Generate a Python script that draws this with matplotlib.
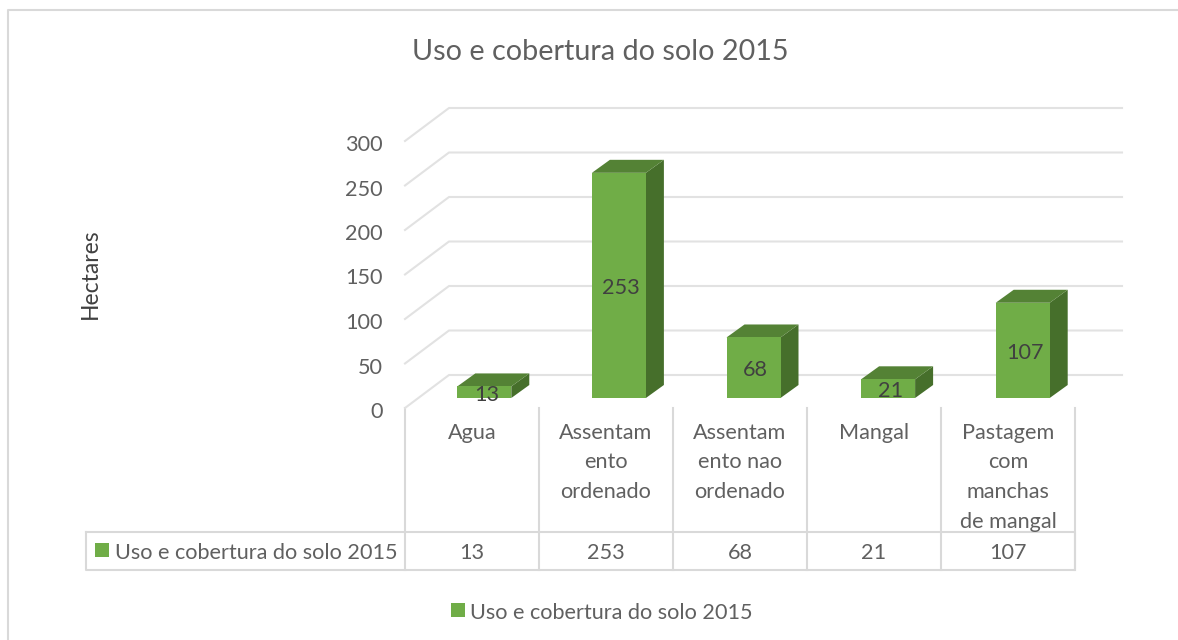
"""Uso e cobertura do solo 2015: fake 3D columns with a data table."""
import matplotlib

matplotlib.use("Agg")
import matplotlib.pyplot as plt
from matplotlib.patches import Polygon, Rectangle
from matplotlib.transforms import Affine2D

categories = [
    "Agua",
    "Assentam\nento\nordenado",
    "Assentam\nento nao\nordenado",
    "Mangal",
    "Pastagem\ncom\nmanchas\nde mangal",
]
values = [13, 253, 68, 21, 107]
yticks = [0, 50, 100, 150, 200, 250, 300]
series_name = "Uso e cobertura do solo 2015"
title = "Uso e cobertura do solo 2015"
ylabel = "Hectares"

GREEN = "#70ad47"
GREEN_TOP = "#548235"
GREEN_SIDE = "#466f2b"
GRID = "#e2e2e2"
BORDER = "#d9d9d9"
TEXT = "#606060"
FONT = "Lato"
SIZE = 15.6

WIDTH, HEIGHT = 1178, 640
# front plane of the plot, in pixels
LEFT, RIGHT, FLOOR, TOP = 405, 1078, 408, 141
PX_X = (RIGHT - LEFT) / len(values)
PX_Y = (FLOOR - TOP) / 300

# depth of the walls and of the columns, in data units
wall_dx, wall_dy = 44 / PX_X, 33 / PX_Y
bar_shift, bar_lift = 12 / PX_X, 10 / PX_Y
side_dx, side_dy = 18 / PX_X, 13 / PX_Y
bar_width = 54 / PX_X

plt.rcParams["font.family"] = [FONT, "DejaVu Sans"]

fig = plt.figure(figsize=(WIDTH / 100, HEIGHT / 100), dpi=100)

# overlay in pixel coordinates for the frame, table and legends
bg = fig.add_axes([0, 0, 1, 1], zorder=0)
bg.set_xlim(0, WIDTH)
bg.set_ylim(HEIGHT, 0)
bg.axis("off")

ax = fig.add_axes(
    [
        LEFT / WIDTH,
        (HEIGHT - FLOOR) / HEIGHT,
        (RIGHT - LEFT) / WIDTH,
        (FLOOR - TOP) / HEIGHT,
    ],
    zorder=1,
)
ax.patch.set_alpha(0)
ax.set_xlim(-0.5, len(values) - 0.5)
ax.set_ylim(0, 300)
ax.set_xticks([])
ax.set_yticks(yticks)
ax.tick_params(axis="y", length=0, pad=16, labelsize=SIZE, labelcolor=TEXT)
# tick labels sit a little under the gridline ends
for label in ax.get_yticklabels():
    label.set_transform(label.get_transform() + Affine2D().translate(0, -2))
for spine in ax.spines.values():
    spine.set_visible(False)

# gridlines: left wall and back wall
x0 = -0.5
x1 = len(values) - 0.5
for y in yticks:
    ax.plot(
        [x0, x0 + wall_dx, x1 + wall_dx],
        [y, y + wall_dy, y + wall_dy],
        color=GRID,
        lw=1.5,
        clip_on=False,
        zorder=1,
    )

# columns
for i, value in enumerate(values):
    x_left = i + bar_shift - bar_width / 2
    x_right = x_left + bar_width
    y_low = bar_lift
    y_top = bar_lift + value
    ax.add_patch(
        Polygon(
            [
                (x_right, y_low),
                (x_right + side_dx, y_low + side_dy),
                (x_right + side_dx, y_top + side_dy),
                (x_right, y_top),
            ],
            facecolor=GREEN_SIDE,
            edgecolor="none",
            clip_on=False,
            zorder=2,
        )
    )
    ax.add_patch(
        Polygon(
            [
                (x_left, y_top),
                (x_left + side_dx, y_top + side_dy),
                (x_right + side_dx, y_top + side_dy),
                (x_right, y_top),
            ],
            facecolor=GREEN_TOP,
            edgecolor="none",
            clip_on=False,
            zorder=2,
        )
    )
    ax.bar(
        i + bar_shift,
        value,
        bottom=bar_lift,
        width=bar_width,
        color=GREEN,
        clip_on=False,
        zorder=3,
    )
    ax.text(
        i + bar_shift + 0.015,
        bar_lift + value / 2 - 3,
        str(value),
        ha="center",
        va="center",
        fontsize=SIZE,
        color="#404040",
        zorder=4,
    )

# outer frame, runs off the right and bottom of the picture
bg.plot([8, 8, WIDTH], [HEIGHT, 10, 10], color=BORDER, lw=1.5)

bg.text(600, 52, title, ha="center", va="center", fontsize=20.7, color=TEXT)
bg.text(
    90,
    274,
    ylabel,
    rotation=90,
    ha="center",
    va="center",
    fontsize=16.5,
    color="#404040",
)

# data table
table_x = [405, 539, 673, 807, 941, 1075]
table_top, table_bottom = 532, 570
for x in table_x:
    bg.plot([x, x], [FLOOR, table_bottom], color=BORDER, lw=1.5)
bg.plot(
    [86, 86, table_x[-1], table_x[-1], 86],
    [table_top, table_bottom, table_bottom, table_top, table_top],
    color=BORDER,
    lw=1.5,
)

for i, (category, value) in enumerate(zip(categories, values)):
    xc = (table_x[i] + table_x[i + 1]) / 2
    for j, line in enumerate(category.split("\n")):
        bg.text(
            xc,
            433 + 29.5 * j,
            line,
            ha="center",
            va="center",
            fontsize=SIZE,
            color=TEXT,
        )
    bg.text(xc, 553, str(value), ha="center", va="center", fontsize=SIZE, color=TEXT)

bg.add_patch(Rectangle((95, 543), 14, 14, facecolor=GREEN, edgecolor="none"))
bg.text(115, 553, series_name, ha="left", va="center", fontsize=SIZE, color=TEXT)

# legend
bg.add_patch(Rectangle((451, 603), 14, 14, facecolor=GREEN, edgecolor="none"))
bg.text(470, 613, series_name, ha="left", va="center", fontsize=SIZE, color=TEXT)

fig.savefig("out.png", dpi=100)
